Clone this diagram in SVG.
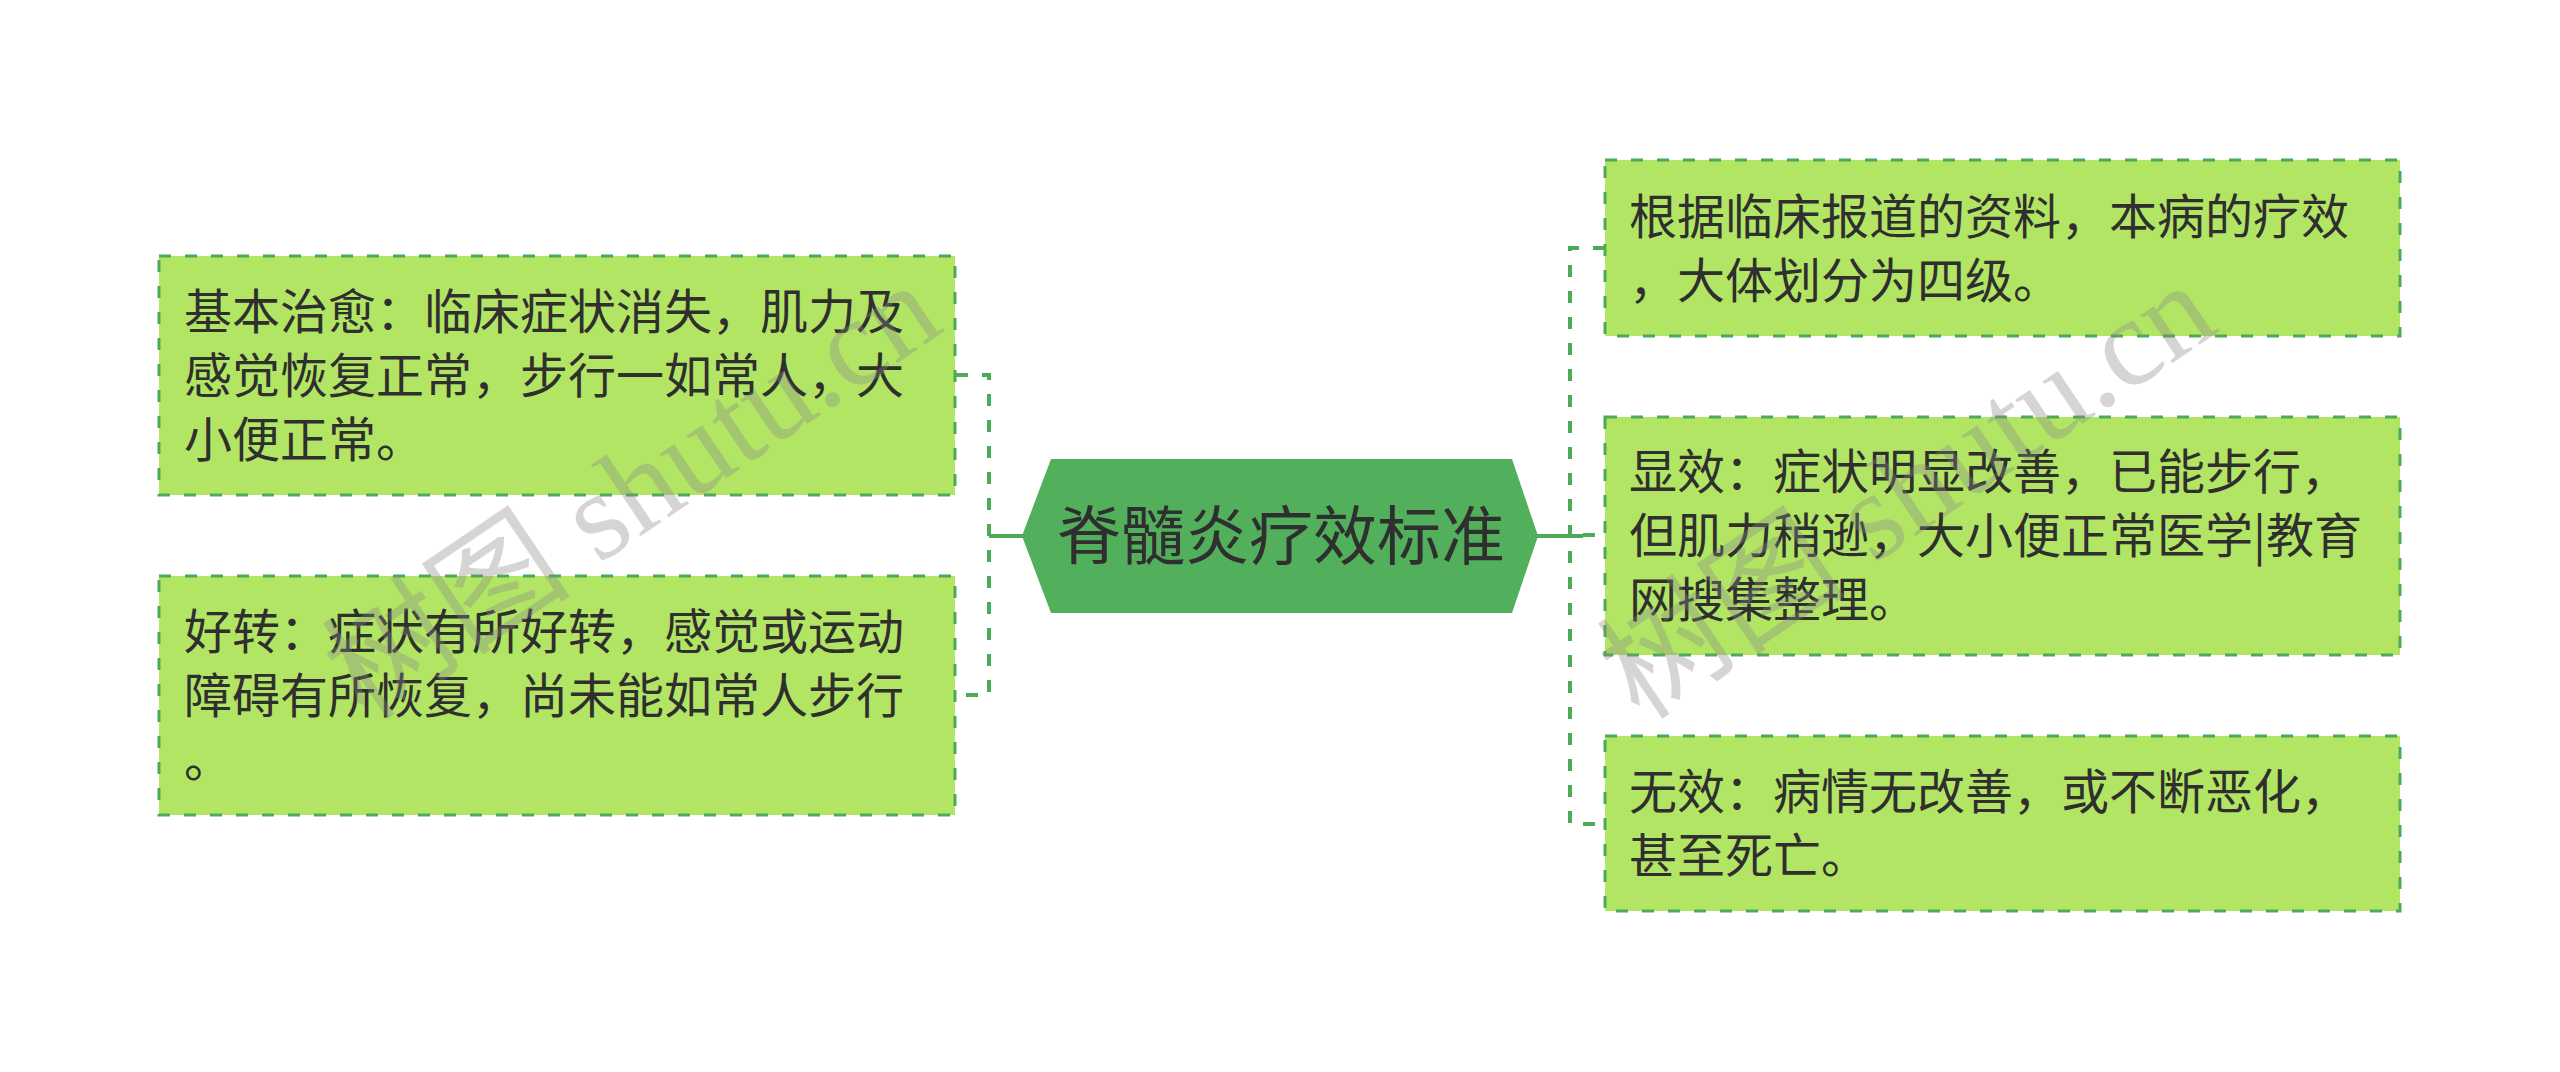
<svg xmlns="http://www.w3.org/2000/svg" width="2560" height="1072" viewBox="0 0 2560 1072">
<style>
.box{fill:#b3e564;stroke:#4dab57;stroke-width:3;stroke-dasharray:12 14}
.t{font-family:"Noto Sans CJK SC","Noto Sans",sans-serif;font-size:48px;fill:#2f2f2f}
.c{font-family:"Noto Sans CJK SC","Noto Sans",sans-serif;font-size:64px;fill:#2f2f2f;text-anchor:middle}
.dash{fill:none;stroke:#4dab57;stroke-width:4;stroke-dasharray:12 14}
.solid{fill:none;stroke:#4dab57;stroke-width:4}
.wm{font-family:"Liberation Serif","Noto Sans CJK SC",serif;font-size:125px;fill:#888;fill-opacity:0.35}
</style>
<rect width="2560" height="1072" fill="#ffffff"/>
<g id="connectors">
<path class="solid" d="M989 536H1024"/>
<path class="solid" d="M1537 536H1583"/>
<path class="dash" d="M956 375H989V695H956"/>
<path class="dash" d="M1605 248H1570V824H1605"/>
<path class="dash" d="M1583 535H1605"/>
</g>
<g id="center">
<polygon points="1022,536 1051,459 1512,459 1538,536 1512,613 1051,613" fill="#52b05c"/>
<text class="c" x="1281" y="559">脊髓炎疗效标准</text>
</g>
<g id="node-l1">
<rect class="box" x="159" y="256" width="796" height="239"/>
<text class="t" x="184" y="329">基本治愈：临床症状消失，肌力及</text>
<text class="t" x="184" y="393">感觉恢复正常，步行一如常人，大</text>
<text class="t" x="184" y="457">小便正常。</text>
</g>
<g id="node-l2">
<rect class="box" x="159" y="576" width="796" height="239"/>
<text class="t" x="184" y="649">好转：症状有所好转，感觉或运动</text>
<text class="t" x="184" y="713">障碍有所恢复，尚未能如常人步行</text>
<text class="t" x="184" y="777">。</text>
</g>
<g id="node-r1">
<rect class="box" x="1605" y="160" width="795" height="176"/>
<text class="t" x="1629" y="234">根据临床报道的资料，本病的疗效</text>
<text class="t" x="1629" y="298">，大体划分为四级。</text>
</g>
<g id="node-r2">
<rect class="box" x="1605" y="417" width="795" height="238"/>
<text class="t" x="1629" y="489">显效：症状明显改善，已能步行，</text>
<text class="t" x="1629" y="553">但肌力稍逊，大小便正常医学|教育</text>
<text class="t" x="1629" y="617">网搜集整理。</text>
</g>
<g id="node-r3">
<rect class="box" x="1605" y="736" width="795" height="175"/>
<text class="t" x="1629" y="809">无效：病情无改善，或不断恶化，</text>
<text class="t" x="1629" y="873">甚至死亡。</text>
</g>
<g id="watermark">
<text class="wm" transform="translate(365,722) rotate(-34)">树图 shutu.cn</text>
<text class="wm" transform="translate(1640,722) rotate(-34)">树图 shutu.cn</text>
</g>
</svg>
